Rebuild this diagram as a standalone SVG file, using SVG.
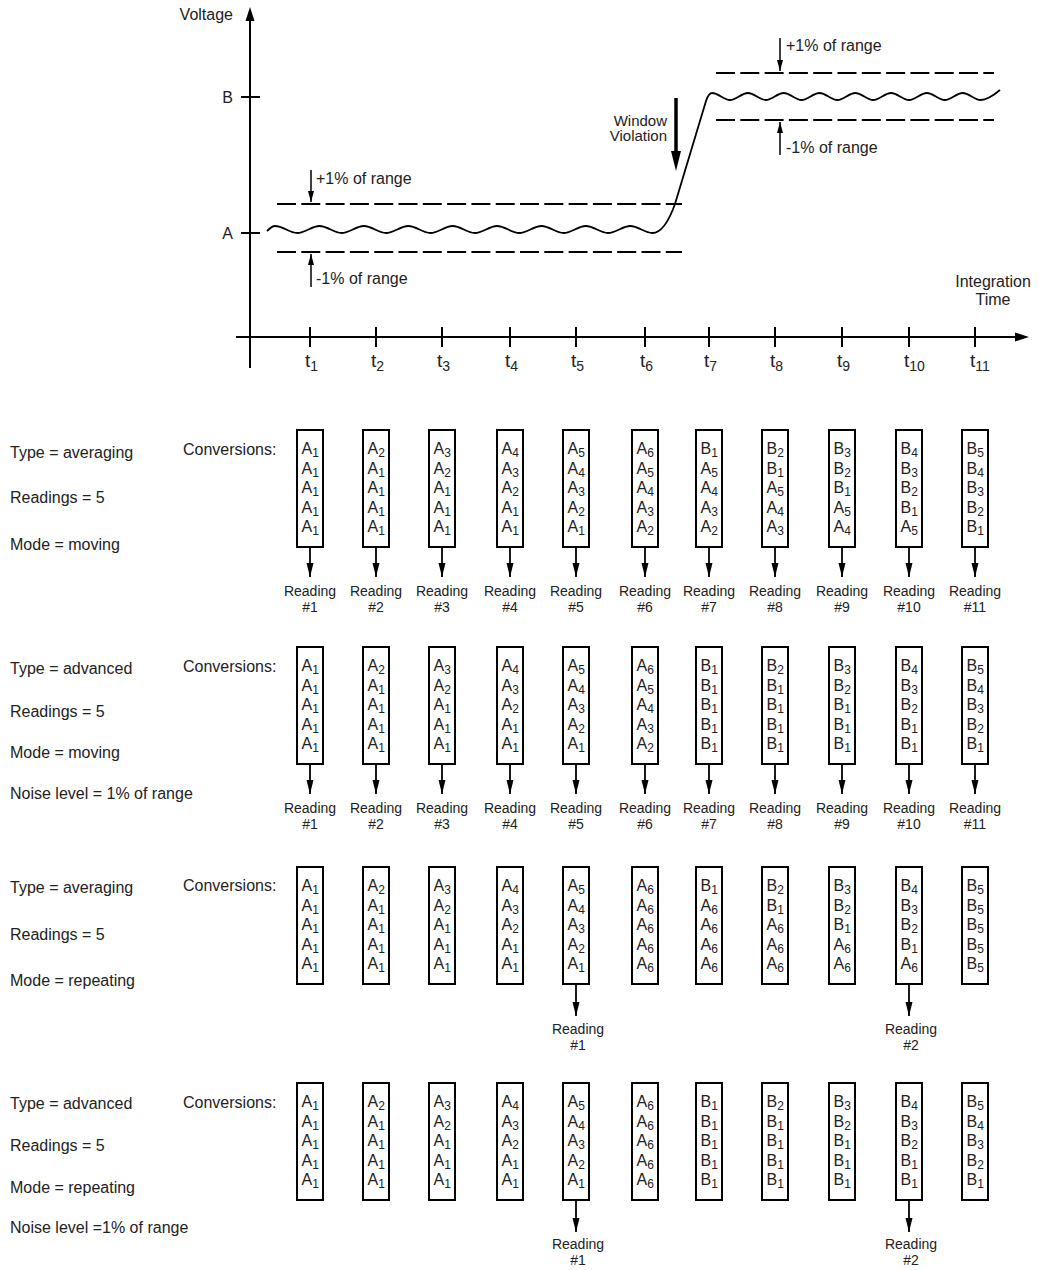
<svg xmlns="http://www.w3.org/2000/svg" width="1039" height="1270" viewBox="0 0 1039 1270">
<defs>
<style>
text{font-family:"Liberation Sans",Arial,sans-serif;fill:#222;}
.lbl{font-size:16px;}
.chart{font-size:16px;}
.tl{font-size:19px;}
.ts{font-size:14px;}
.rd{font-size:14px;text-anchor:middle;}
.box rect{fill:#fff;stroke:#000;stroke-width:2;}
.box text{font-size:16px;}
.s{font-size:12px;}
.ax{stroke:#000;stroke-width:2;fill:none;}
.dash{stroke:#000;stroke-width:2;stroke-dasharray:19 5.3;fill:none;}
.wave{stroke:#000;stroke-width:1.8;fill:none;}
.sm{stroke:#000;stroke-width:1.5;fill:none;}
.conn line{stroke:#000;stroke-width:1.8;}
</style>
<marker id="ah" markerUnits="userSpaceOnUse" markerWidth="14" markerHeight="8" refX="14" refY="4" orient="auto">
<path d="M0,0.5 L14,4 L0,7.5 z" fill="#000"/>
</marker>
<marker id="ahs" markerUnits="userSpaceOnUse" markerWidth="11" markerHeight="8" refX="11" refY="3.5" orient="auto">
<path d="M0,0.5 L11,3.5 L0,6.5 z" fill="#000"/>
</marker>
</defs>
<rect width="1039" height="1270" fill="#fff"/>

<g id="chart">
<line class="ax" x1="250" y1="368" x2="250" y2="18"/>
<polygon points="250,7 245.5,21 254.5,21" fill="#000"/>
<line class="ax" x1="236" y1="337" x2="1017" y2="337"/>
<polygon points="1029,337 1015,332.5 1015,341.5" fill="#000"/>
<line class="ax" x1="241" y1="97" x2="260" y2="97"/>
<line class="ax" x1="241" y1="233" x2="260" y2="233"/>
<g class="ax">
<line x1="310" y1="327" x2="310" y2="347"/>
<line x1="376" y1="327" x2="376" y2="347"/>
<line x1="442" y1="327" x2="442" y2="347"/>
<line x1="510" y1="327" x2="510" y2="347"/>
<line x1="576" y1="327" x2="576" y2="347"/>
<line x1="645" y1="327" x2="645" y2="347"/>
<line x1="709" y1="327" x2="709" y2="347"/>
<line x1="775" y1="327" x2="775" y2="347"/>
<line x1="842" y1="327" x2="842" y2="347"/>
<line x1="909" y1="327" x2="909" y2="347"/>
<line x1="975" y1="327" x2="975" y2="347"/>
</g>
<g class="tl">
<text x="305" y="367">t<tspan class="ts" dy="4">1</tspan></text>
<text x="371" y="367">t<tspan class="ts" dy="4">2</tspan></text>
<text x="437" y="367">t<tspan class="ts" dy="4">3</tspan></text>
<text x="505" y="367">t<tspan class="ts" dy="4">4</tspan></text>
<text x="571" y="367">t<tspan class="ts" dy="4">5</tspan></text>
<text x="640" y="367">t<tspan class="ts" dy="4">6</tspan></text>
<text x="704" y="367">t<tspan class="ts" dy="4">7</tspan></text>
<text x="770" y="367">t<tspan class="ts" dy="4">8</tspan></text>
<text x="837" y="367">t<tspan class="ts" dy="4">9</tspan></text>
<text x="904" y="367">t<tspan class="ts" dy="4">10</tspan></text>
<text x="970" y="367">t<tspan class="ts" dy="4">11</tspan></text>
</g>
<text class="chart" x="233" y="20" text-anchor="end">Voltage</text>
<text class="chart" x="233" y="103" text-anchor="end">B</text>
<text class="chart" x="233" y="239" text-anchor="end">A</text>
<text class="chart" x="993" y="287" text-anchor="middle">Integration</text>
<text class="chart" x="993" y="305" text-anchor="middle">Time</text>

<line class="dash" x1="277" y1="204" x2="682" y2="204"/>
<line class="dash" x1="277" y1="252" x2="682" y2="252"/>
<line class="dash" x1="716" y1="73" x2="994" y2="73"/>
<line class="dash" x1="716" y1="120" x2="994" y2="120"/>

<path class="wave" d="M267,231 C270,228 272,226 275,226 C283.1,226 289.3,233 297.2,233 C305.3,233 311.5,226 319.4,226 C327.5,226 333.7,233 341.6,233 C349.7,233 355.9,226 363.8,226 C371.9,226 378.1,233 386,233 C394.1,233 400.3,226 408.2,226 C416.3,226 422.5,233 430.4,233 C438.5,233 444.7,226 452.6,226 C460.7,226 466.9,233 474.8,233 C482.9,233 489.1,226 497,226 C505.1,226 511.3,233 519.2,233 C527.3,233 533.5,226 541.4,226 C549.5,226 555.7,233 563.6,233 C571.7,233 577.9,226 585.8,226 C593.9,226 600.1,233 608,233 C616.1,233 622.3,226 630.2,226 C638.3,226 644.5,233 652.4,233 C662,233 670,218 675,204 L706,101 C708,95 710,93 712.1,93 C718.6,93 723.5,100 730,100 C736.5,100 741.4,93 747.9,93 C754.4,93 759.3,100 765.8,100 C772.3,100 777.2,93 783.7,93 C790.2,93 795.1,100 801.6,100 C808.1,100 813,93 819.5,93 C826,93 830.9,100 837.4,100 C843.9,100 848.8,93 855.3,93 C861.8,93 866.7,100 873.2,100 C879.7,100 884.6,93 891.1,93 C897.6,93 902.5,100 909,100 C915.5,100 920.4,93 926.9,93 C933.4,93 938.3,100 944.8,100 C951.3,100 956.2,93 962.7,93 C969.2,93 974.1,100 980.6,100 C987,100 994,95 1000,90"/>

<line x1="676" y1="98" x2="676" y2="155" stroke="#000" stroke-width="3.5"/>
<polygon points="676,171 671,151 681,151" fill="#000"/>
<text x="667" y="126" font-size="15" text-anchor="end">Window</text>
<text x="667" y="141" font-size="15" text-anchor="end">Violation</text>

<line class="sm" x1="311" y1="170" x2="311" y2="202" marker-end="url(#ahs)"/>
<text class="chart" x="316" y="184">+1% of range</text>
<line class="sm" x1="311" y1="287" x2="311" y2="254" marker-end="url(#ahs)"/>
<text class="chart" x="316" y="284">-1% of range</text>
<line class="sm" x1="780" y1="38" x2="780" y2="71" marker-end="url(#ahs)"/>
<text class="chart" x="786" y="51">+1% of range</text>
<line class="sm" x1="780" y1="155" x2="780" y2="122" marker-end="url(#ahs)"/>
<text class="chart" x="786" y="153">-1% of range</text>
</g>

<g id="labels" class="lbl">
<text x="10" y="458">Type = averaging</text>
<text x="10" y="503">Readings = 5</text>
<text x="10" y="550">Mode = moving</text>
<text x="183" y="455">Conversions:</text>
<text x="10" y="673.5">Type = advanced</text>
<text x="10" y="717">Readings = 5</text>
<text x="10" y="758">Mode = moving</text>
<text x="10" y="798.5">Noise level = 1% of range</text>
<text x="183" y="672">Conversions:</text>
<text x="10" y="892.5">Type = averaging</text>
<text x="10" y="939.5">Readings = 5</text>
<text x="10" y="985.5">Mode = repeating</text>
<text x="183" y="891">Conversions:</text>
<text x="10" y="1109">Type = advanced</text>
<text x="10" y="1151">Readings = 5</text>
<text x="10" y="1192.5">Mode = repeating</text>
<text x="10" y="1233">Noise level =1% of range</text>
<text x="183" y="1108">Conversions:</text>
</g>

<!-- Row 1 -->
<g id="r1b1" class="box"><rect x="297" y="430" width="26" height="117"/><text><tspan x="301.5" y="454">A</tspan><tspan class="s" dy="3">1</tspan><tspan x="301.5" y="473.6">A</tspan><tspan class="s" dy="3">1</tspan><tspan x="301.5" y="493.2">A</tspan><tspan class="s" dy="3">1</tspan><tspan x="301.5" y="512.8">A</tspan><tspan class="s" dy="3">1</tspan><tspan x="301.5" y="532.4">A</tspan><tspan class="s" dy="3">1</tspan></text></g>
<g id="r1b2" class="box"><rect x="363" y="430" width="26" height="117"/><text><tspan x="367.5" y="454">A</tspan><tspan class="s" dy="3">2</tspan><tspan x="367.5" y="473.6">A</tspan><tspan class="s" dy="3">1</tspan><tspan x="367.5" y="493.2">A</tspan><tspan class="s" dy="3">1</tspan><tspan x="367.5" y="512.8">A</tspan><tspan class="s" dy="3">1</tspan><tspan x="367.5" y="532.4">A</tspan><tspan class="s" dy="3">1</tspan></text></g>
<g id="r1b3" class="box"><rect x="429" y="430" width="26" height="117"/><text><tspan x="433.5" y="454">A</tspan><tspan class="s" dy="3">3</tspan><tspan x="433.5" y="473.6">A</tspan><tspan class="s" dy="3">2</tspan><tspan x="433.5" y="493.2">A</tspan><tspan class="s" dy="3">1</tspan><tspan x="433.5" y="512.8">A</tspan><tspan class="s" dy="3">1</tspan><tspan x="433.5" y="532.4">A</tspan><tspan class="s" dy="3">1</tspan></text></g>
<g id="r1b4" class="box"><rect x="497" y="430" width="26" height="117"/><text><tspan x="501.5" y="454">A</tspan><tspan class="s" dy="3">4</tspan><tspan x="501.5" y="473.6">A</tspan><tspan class="s" dy="3">3</tspan><tspan x="501.5" y="493.2">A</tspan><tspan class="s" dy="3">2</tspan><tspan x="501.5" y="512.8">A</tspan><tspan class="s" dy="3">1</tspan><tspan x="501.5" y="532.4">A</tspan><tspan class="s" dy="3">1</tspan></text></g>
<g id="r1b5" class="box"><rect x="563" y="430" width="26" height="117"/><text><tspan x="567.5" y="454">A</tspan><tspan class="s" dy="3">5</tspan><tspan x="567.5" y="473.6">A</tspan><tspan class="s" dy="3">4</tspan><tspan x="567.5" y="493.2">A</tspan><tspan class="s" dy="3">3</tspan><tspan x="567.5" y="512.8">A</tspan><tspan class="s" dy="3">2</tspan><tspan x="567.5" y="532.4">A</tspan><tspan class="s" dy="3">1</tspan></text></g>
<g id="r1b6" class="box"><rect x="632" y="430" width="26" height="117"/><text><tspan x="636.5" y="454">A</tspan><tspan class="s" dy="3">6</tspan><tspan x="636.5" y="473.6">A</tspan><tspan class="s" dy="3">5</tspan><tspan x="636.5" y="493.2">A</tspan><tspan class="s" dy="3">4</tspan><tspan x="636.5" y="512.8">A</tspan><tspan class="s" dy="3">3</tspan><tspan x="636.5" y="532.4">A</tspan><tspan class="s" dy="3">2</tspan></text></g>
<g id="r1b7" class="box"><rect x="696" y="430" width="26" height="117"/><text><tspan x="700.5" y="454">B</tspan><tspan class="s" dy="3">1</tspan><tspan x="700.5" y="473.6">A</tspan><tspan class="s" dy="3">5</tspan><tspan x="700.5" y="493.2">A</tspan><tspan class="s" dy="3">4</tspan><tspan x="700.5" y="512.8">A</tspan><tspan class="s" dy="3">3</tspan><tspan x="700.5" y="532.4">A</tspan><tspan class="s" dy="3">2</tspan></text></g>
<g id="r1b8" class="box"><rect x="762" y="430" width="26" height="117"/><text><tspan x="766.5" y="454">B</tspan><tspan class="s" dy="3">2</tspan><tspan x="766.5" y="473.6">B</tspan><tspan class="s" dy="3">1</tspan><tspan x="766.5" y="493.2">A</tspan><tspan class="s" dy="3">5</tspan><tspan x="766.5" y="512.8">A</tspan><tspan class="s" dy="3">4</tspan><tspan x="766.5" y="532.4">A</tspan><tspan class="s" dy="3">3</tspan></text></g>
<g id="r1b9" class="box"><rect x="829" y="430" width="26" height="117"/><text><tspan x="833.5" y="454">B</tspan><tspan class="s" dy="3">3</tspan><tspan x="833.5" y="473.6">B</tspan><tspan class="s" dy="3">2</tspan><tspan x="833.5" y="493.2">B</tspan><tspan class="s" dy="3">1</tspan><tspan x="833.5" y="512.8">A</tspan><tspan class="s" dy="3">5</tspan><tspan x="833.5" y="532.4">A</tspan><tspan class="s" dy="3">4</tspan></text></g>
<g id="r1b10" class="box"><rect x="896" y="430" width="26" height="117"/><text><tspan x="900.5" y="454">B</tspan><tspan class="s" dy="3">4</tspan><tspan x="900.5" y="473.6">B</tspan><tspan class="s" dy="3">3</tspan><tspan x="900.5" y="493.2">B</tspan><tspan class="s" dy="3">2</tspan><tspan x="900.5" y="512.8">B</tspan><tspan class="s" dy="3">1</tspan><tspan x="900.5" y="532.4">A</tspan><tspan class="s" dy="3">5</tspan></text></g>
<g id="r1b11" class="box"><rect x="962" y="430" width="26" height="117"/><text><tspan x="966.5" y="454">B</tspan><tspan class="s" dy="3">5</tspan><tspan x="966.5" y="473.6">B</tspan><tspan class="s" dy="3">4</tspan><tspan x="966.5" y="493.2">B</tspan><tspan class="s" dy="3">3</tspan><tspan x="966.5" y="512.8">B</tspan><tspan class="s" dy="3">2</tspan><tspan x="966.5" y="532.4">B</tspan><tspan class="s" dy="3">1</tspan></text></g>

<!-- Row 2 -->
<g id="r2b1" class="box"><rect x="297" y="647" width="26" height="117"/><text><tspan x="301.5" y="671">A</tspan><tspan class="s" dy="3">1</tspan><tspan x="301.5" y="690.6">A</tspan><tspan class="s" dy="3">1</tspan><tspan x="301.5" y="710.2">A</tspan><tspan class="s" dy="3">1</tspan><tspan x="301.5" y="729.8">A</tspan><tspan class="s" dy="3">1</tspan><tspan x="301.5" y="749.4">A</tspan><tspan class="s" dy="3">1</tspan></text></g>
<g id="r2b2" class="box"><rect x="363" y="647" width="26" height="117"/><text><tspan x="367.5" y="671">A</tspan><tspan class="s" dy="3">2</tspan><tspan x="367.5" y="690.6">A</tspan><tspan class="s" dy="3">1</tspan><tspan x="367.5" y="710.2">A</tspan><tspan class="s" dy="3">1</tspan><tspan x="367.5" y="729.8">A</tspan><tspan class="s" dy="3">1</tspan><tspan x="367.5" y="749.4">A</tspan><tspan class="s" dy="3">1</tspan></text></g>
<g id="r2b3" class="box"><rect x="429" y="647" width="26" height="117"/><text><tspan x="433.5" y="671">A</tspan><tspan class="s" dy="3">3</tspan><tspan x="433.5" y="690.6">A</tspan><tspan class="s" dy="3">2</tspan><tspan x="433.5" y="710.2">A</tspan><tspan class="s" dy="3">1</tspan><tspan x="433.5" y="729.8">A</tspan><tspan class="s" dy="3">1</tspan><tspan x="433.5" y="749.4">A</tspan><tspan class="s" dy="3">1</tspan></text></g>
<g id="r2b4" class="box"><rect x="497" y="647" width="26" height="117"/><text><tspan x="501.5" y="671">A</tspan><tspan class="s" dy="3">4</tspan><tspan x="501.5" y="690.6">A</tspan><tspan class="s" dy="3">3</tspan><tspan x="501.5" y="710.2">A</tspan><tspan class="s" dy="3">2</tspan><tspan x="501.5" y="729.8">A</tspan><tspan class="s" dy="3">1</tspan><tspan x="501.5" y="749.4">A</tspan><tspan class="s" dy="3">1</tspan></text></g>
<g id="r2b5" class="box"><rect x="563" y="647" width="26" height="117"/><text><tspan x="567.5" y="671">A</tspan><tspan class="s" dy="3">5</tspan><tspan x="567.5" y="690.6">A</tspan><tspan class="s" dy="3">4</tspan><tspan x="567.5" y="710.2">A</tspan><tspan class="s" dy="3">3</tspan><tspan x="567.5" y="729.8">A</tspan><tspan class="s" dy="3">2</tspan><tspan x="567.5" y="749.4">A</tspan><tspan class="s" dy="3">1</tspan></text></g>
<g id="r2b6" class="box"><rect x="632" y="647" width="26" height="117"/><text><tspan x="636.5" y="671">A</tspan><tspan class="s" dy="3">6</tspan><tspan x="636.5" y="690.6">A</tspan><tspan class="s" dy="3">5</tspan><tspan x="636.5" y="710.2">A</tspan><tspan class="s" dy="3">4</tspan><tspan x="636.5" y="729.8">A</tspan><tspan class="s" dy="3">3</tspan><tspan x="636.5" y="749.4">A</tspan><tspan class="s" dy="3">2</tspan></text></g>
<g id="r2b7" class="box"><rect x="696" y="647" width="26" height="117"/><text><tspan x="700.5" y="671">B</tspan><tspan class="s" dy="3">1</tspan><tspan x="700.5" y="690.6">B</tspan><tspan class="s" dy="3">1</tspan><tspan x="700.5" y="710.2">B</tspan><tspan class="s" dy="3">1</tspan><tspan x="700.5" y="729.8">B</tspan><tspan class="s" dy="3">1</tspan><tspan x="700.5" y="749.4">B</tspan><tspan class="s" dy="3">1</tspan></text></g>
<g id="r2b8" class="box"><rect x="762" y="647" width="26" height="117"/><text><tspan x="766.5" y="671">B</tspan><tspan class="s" dy="3">2</tspan><tspan x="766.5" y="690.6">B</tspan><tspan class="s" dy="3">1</tspan><tspan x="766.5" y="710.2">B</tspan><tspan class="s" dy="3">1</tspan><tspan x="766.5" y="729.8">B</tspan><tspan class="s" dy="3">1</tspan><tspan x="766.5" y="749.4">B</tspan><tspan class="s" dy="3">1</tspan></text></g>
<g id="r2b9" class="box"><rect x="829" y="647" width="26" height="117"/><text><tspan x="833.5" y="671">B</tspan><tspan class="s" dy="3">3</tspan><tspan x="833.5" y="690.6">B</tspan><tspan class="s" dy="3">2</tspan><tspan x="833.5" y="710.2">B</tspan><tspan class="s" dy="3">1</tspan><tspan x="833.5" y="729.8">B</tspan><tspan class="s" dy="3">1</tspan><tspan x="833.5" y="749.4">B</tspan><tspan class="s" dy="3">1</tspan></text></g>
<g id="r2b10" class="box"><rect x="896" y="647" width="26" height="117"/><text><tspan x="900.5" y="671">B</tspan><tspan class="s" dy="3">4</tspan><tspan x="900.5" y="690.6">B</tspan><tspan class="s" dy="3">3</tspan><tspan x="900.5" y="710.2">B</tspan><tspan class="s" dy="3">2</tspan><tspan x="900.5" y="729.8">B</tspan><tspan class="s" dy="3">1</tspan><tspan x="900.5" y="749.4">B</tspan><tspan class="s" dy="3">1</tspan></text></g>
<g id="r2b11" class="box"><rect x="962" y="647" width="26" height="117"/><text><tspan x="966.5" y="671">B</tspan><tspan class="s" dy="3">5</tspan><tspan x="966.5" y="690.6">B</tspan><tspan class="s" dy="3">4</tspan><tspan x="966.5" y="710.2">B</tspan><tspan class="s" dy="3">3</tspan><tspan x="966.5" y="729.8">B</tspan><tspan class="s" dy="3">2</tspan><tspan x="966.5" y="749.4">B</tspan><tspan class="s" dy="3">1</tspan></text></g>

<!-- Row 3 -->
<g id="r3b1" class="box"><rect x="297" y="867" width="26" height="117"/><text><tspan x="301.5" y="891">A</tspan><tspan class="s" dy="3">1</tspan><tspan x="301.5" y="910.6">A</tspan><tspan class="s" dy="3">1</tspan><tspan x="301.5" y="930.2">A</tspan><tspan class="s" dy="3">1</tspan><tspan x="301.5" y="949.8">A</tspan><tspan class="s" dy="3">1</tspan><tspan x="301.5" y="969.4">A</tspan><tspan class="s" dy="3">1</tspan></text></g>
<g id="r3b2" class="box"><rect x="363" y="867" width="26" height="117"/><text><tspan x="367.5" y="891">A</tspan><tspan class="s" dy="3">2</tspan><tspan x="367.5" y="910.6">A</tspan><tspan class="s" dy="3">1</tspan><tspan x="367.5" y="930.2">A</tspan><tspan class="s" dy="3">1</tspan><tspan x="367.5" y="949.8">A</tspan><tspan class="s" dy="3">1</tspan><tspan x="367.5" y="969.4">A</tspan><tspan class="s" dy="3">1</tspan></text></g>
<g id="r3b3" class="box"><rect x="429" y="867" width="26" height="117"/><text><tspan x="433.5" y="891">A</tspan><tspan class="s" dy="3">3</tspan><tspan x="433.5" y="910.6">A</tspan><tspan class="s" dy="3">2</tspan><tspan x="433.5" y="930.2">A</tspan><tspan class="s" dy="3">1</tspan><tspan x="433.5" y="949.8">A</tspan><tspan class="s" dy="3">1</tspan><tspan x="433.5" y="969.4">A</tspan><tspan class="s" dy="3">1</tspan></text></g>
<g id="r3b4" class="box"><rect x="497" y="867" width="26" height="117"/><text><tspan x="501.5" y="891">A</tspan><tspan class="s" dy="3">4</tspan><tspan x="501.5" y="910.6">A</tspan><tspan class="s" dy="3">3</tspan><tspan x="501.5" y="930.2">A</tspan><tspan class="s" dy="3">2</tspan><tspan x="501.5" y="949.8">A</tspan><tspan class="s" dy="3">1</tspan><tspan x="501.5" y="969.4">A</tspan><tspan class="s" dy="3">1</tspan></text></g>
<g id="r3b5" class="box"><rect x="563" y="867" width="26" height="117"/><text><tspan x="567.5" y="891">A</tspan><tspan class="s" dy="3">5</tspan><tspan x="567.5" y="910.6">A</tspan><tspan class="s" dy="3">4</tspan><tspan x="567.5" y="930.2">A</tspan><tspan class="s" dy="3">3</tspan><tspan x="567.5" y="949.8">A</tspan><tspan class="s" dy="3">2</tspan><tspan x="567.5" y="969.4">A</tspan><tspan class="s" dy="3">1</tspan></text></g>
<g id="r3b6" class="box"><rect x="632" y="867" width="26" height="117"/><text><tspan x="636.5" y="891">A</tspan><tspan class="s" dy="3">6</tspan><tspan x="636.5" y="910.6">A</tspan><tspan class="s" dy="3">6</tspan><tspan x="636.5" y="930.2">A</tspan><tspan class="s" dy="3">6</tspan><tspan x="636.5" y="949.8">A</tspan><tspan class="s" dy="3">6</tspan><tspan x="636.5" y="969.4">A</tspan><tspan class="s" dy="3">6</tspan></text></g>
<g id="r3b7" class="box"><rect x="696" y="867" width="26" height="117"/><text><tspan x="700.5" y="891">B</tspan><tspan class="s" dy="3">1</tspan><tspan x="700.5" y="910.6">A</tspan><tspan class="s" dy="3">6</tspan><tspan x="700.5" y="930.2">A</tspan><tspan class="s" dy="3">6</tspan><tspan x="700.5" y="949.8">A</tspan><tspan class="s" dy="3">6</tspan><tspan x="700.5" y="969.4">A</tspan><tspan class="s" dy="3">6</tspan></text></g>
<g id="r3b8" class="box"><rect x="762" y="867" width="26" height="117"/><text><tspan x="766.5" y="891">B</tspan><tspan class="s" dy="3">2</tspan><tspan x="766.5" y="910.6">B</tspan><tspan class="s" dy="3">1</tspan><tspan x="766.5" y="930.2">A</tspan><tspan class="s" dy="3">6</tspan><tspan x="766.5" y="949.8">A</tspan><tspan class="s" dy="3">6</tspan><tspan x="766.5" y="969.4">A</tspan><tspan class="s" dy="3">6</tspan></text></g>
<g id="r3b9" class="box"><rect x="829" y="867" width="26" height="117"/><text><tspan x="833.5" y="891">B</tspan><tspan class="s" dy="3">3</tspan><tspan x="833.5" y="910.6">B</tspan><tspan class="s" dy="3">2</tspan><tspan x="833.5" y="930.2">B</tspan><tspan class="s" dy="3">1</tspan><tspan x="833.5" y="949.8">A</tspan><tspan class="s" dy="3">6</tspan><tspan x="833.5" y="969.4">A</tspan><tspan class="s" dy="3">6</tspan></text></g>
<g id="r3b10" class="box"><rect x="896" y="867" width="26" height="117"/><text><tspan x="900.5" y="891">B</tspan><tspan class="s" dy="3">4</tspan><tspan x="900.5" y="910.6">B</tspan><tspan class="s" dy="3">3</tspan><tspan x="900.5" y="930.2">B</tspan><tspan class="s" dy="3">2</tspan><tspan x="900.5" y="949.8">B</tspan><tspan class="s" dy="3">1</tspan><tspan x="900.5" y="969.4">A</tspan><tspan class="s" dy="3">6</tspan></text></g>
<g id="r3b11" class="box"><rect x="962" y="867" width="26" height="117"/><text><tspan x="966.5" y="891">B</tspan><tspan class="s" dy="3">5</tspan><tspan x="966.5" y="910.6">B</tspan><tspan class="s" dy="3">5</tspan><tspan x="966.5" y="930.2">B</tspan><tspan class="s" dy="3">5</tspan><tspan x="966.5" y="949.8">B</tspan><tspan class="s" dy="3">5</tspan><tspan x="966.5" y="969.4">B</tspan><tspan class="s" dy="3">5</tspan></text></g>

<!-- Row 4 -->
<g id="r4b1" class="box"><rect x="297" y="1083" width="26" height="117"/><text><tspan x="301.5" y="1107">A</tspan><tspan class="s" dy="3">1</tspan><tspan x="301.5" y="1126.6">A</tspan><tspan class="s" dy="3">1</tspan><tspan x="301.5" y="1146.2">A</tspan><tspan class="s" dy="3">1</tspan><tspan x="301.5" y="1165.8">A</tspan><tspan class="s" dy="3">1</tspan><tspan x="301.5" y="1185.4">A</tspan><tspan class="s" dy="3">1</tspan></text></g>
<g id="r4b2" class="box"><rect x="363" y="1083" width="26" height="117"/><text><tspan x="367.5" y="1107">A</tspan><tspan class="s" dy="3">2</tspan><tspan x="367.5" y="1126.6">A</tspan><tspan class="s" dy="3">1</tspan><tspan x="367.5" y="1146.2">A</tspan><tspan class="s" dy="3">1</tspan><tspan x="367.5" y="1165.8">A</tspan><tspan class="s" dy="3">1</tspan><tspan x="367.5" y="1185.4">A</tspan><tspan class="s" dy="3">1</tspan></text></g>
<g id="r4b3" class="box"><rect x="429" y="1083" width="26" height="117"/><text><tspan x="433.5" y="1107">A</tspan><tspan class="s" dy="3">3</tspan><tspan x="433.5" y="1126.6">A</tspan><tspan class="s" dy="3">2</tspan><tspan x="433.5" y="1146.2">A</tspan><tspan class="s" dy="3">1</tspan><tspan x="433.5" y="1165.8">A</tspan><tspan class="s" dy="3">1</tspan><tspan x="433.5" y="1185.4">A</tspan><tspan class="s" dy="3">1</tspan></text></g>
<g id="r4b4" class="box"><rect x="497" y="1083" width="26" height="117"/><text><tspan x="501.5" y="1107">A</tspan><tspan class="s" dy="3">4</tspan><tspan x="501.5" y="1126.6">A</tspan><tspan class="s" dy="3">3</tspan><tspan x="501.5" y="1146.2">A</tspan><tspan class="s" dy="3">2</tspan><tspan x="501.5" y="1165.8">A</tspan><tspan class="s" dy="3">1</tspan><tspan x="501.5" y="1185.4">A</tspan><tspan class="s" dy="3">1</tspan></text></g>
<g id="r4b5" class="box"><rect x="563" y="1083" width="26" height="117"/><text><tspan x="567.5" y="1107">A</tspan><tspan class="s" dy="3">5</tspan><tspan x="567.5" y="1126.6">A</tspan><tspan class="s" dy="3">4</tspan><tspan x="567.5" y="1146.2">A</tspan><tspan class="s" dy="3">3</tspan><tspan x="567.5" y="1165.8">A</tspan><tspan class="s" dy="3">2</tspan><tspan x="567.5" y="1185.4">A</tspan><tspan class="s" dy="3">1</tspan></text></g>
<g id="r4b6" class="box"><rect x="632" y="1083" width="26" height="117"/><text><tspan x="636.5" y="1107">A</tspan><tspan class="s" dy="3">6</tspan><tspan x="636.5" y="1126.6">A</tspan><tspan class="s" dy="3">6</tspan><tspan x="636.5" y="1146.2">A</tspan><tspan class="s" dy="3">6</tspan><tspan x="636.5" y="1165.8">A</tspan><tspan class="s" dy="3">6</tspan><tspan x="636.5" y="1185.4">A</tspan><tspan class="s" dy="3">6</tspan></text></g>
<g id="r4b7" class="box"><rect x="696" y="1083" width="26" height="117"/><text><tspan x="700.5" y="1107">B</tspan><tspan class="s" dy="3">1</tspan><tspan x="700.5" y="1126.6">B</tspan><tspan class="s" dy="3">1</tspan><tspan x="700.5" y="1146.2">B</tspan><tspan class="s" dy="3">1</tspan><tspan x="700.5" y="1165.8">B</tspan><tspan class="s" dy="3">1</tspan><tspan x="700.5" y="1185.4">B</tspan><tspan class="s" dy="3">1</tspan></text></g>
<g id="r4b8" class="box"><rect x="762" y="1083" width="26" height="117"/><text><tspan x="766.5" y="1107">B</tspan><tspan class="s" dy="3">2</tspan><tspan x="766.5" y="1126.6">B</tspan><tspan class="s" dy="3">1</tspan><tspan x="766.5" y="1146.2">B</tspan><tspan class="s" dy="3">1</tspan><tspan x="766.5" y="1165.8">B</tspan><tspan class="s" dy="3">1</tspan><tspan x="766.5" y="1185.4">B</tspan><tspan class="s" dy="3">1</tspan></text></g>
<g id="r4b9" class="box"><rect x="829" y="1083" width="26" height="117"/><text><tspan x="833.5" y="1107">B</tspan><tspan class="s" dy="3">3</tspan><tspan x="833.5" y="1126.6">B</tspan><tspan class="s" dy="3">2</tspan><tspan x="833.5" y="1146.2">B</tspan><tspan class="s" dy="3">1</tspan><tspan x="833.5" y="1165.8">B</tspan><tspan class="s" dy="3">1</tspan><tspan x="833.5" y="1185.4">B</tspan><tspan class="s" dy="3">1</tspan></text></g>
<g id="r4b10" class="box"><rect x="896" y="1083" width="26" height="117"/><text><tspan x="900.5" y="1107">B</tspan><tspan class="s" dy="3">4</tspan><tspan x="900.5" y="1126.6">B</tspan><tspan class="s" dy="3">3</tspan><tspan x="900.5" y="1146.2">B</tspan><tspan class="s" dy="3">2</tspan><tspan x="900.5" y="1165.8">B</tspan><tspan class="s" dy="3">1</tspan><tspan x="900.5" y="1185.4">B</tspan><tspan class="s" dy="3">1</tspan></text></g>
<g id="r4b11" class="box"><rect x="962" y="1083" width="26" height="117"/><text><tspan x="966.5" y="1107">B</tspan><tspan class="s" dy="3">5</tspan><tspan x="966.5" y="1126.6">B</tspan><tspan class="s" dy="3">4</tspan><tspan x="966.5" y="1146.2">B</tspan><tspan class="s" dy="3">3</tspan><tspan x="966.5" y="1165.8">B</tspan><tspan class="s" dy="3">2</tspan><tspan x="966.5" y="1185.4">B</tspan><tspan class="s" dy="3">1</tspan></text></g>

<g id="connectors" class="conn">
<line x1="310" y1="547" x2="310" y2="577" marker-end="url(#ah)"/>
<line x1="376" y1="547" x2="376" y2="577" marker-end="url(#ah)"/>
<line x1="442" y1="547" x2="442" y2="577" marker-end="url(#ah)"/>
<line x1="510" y1="547" x2="510" y2="577" marker-end="url(#ah)"/>
<line x1="576" y1="547" x2="576" y2="577" marker-end="url(#ah)"/>
<line x1="645" y1="547" x2="645" y2="577" marker-end="url(#ah)"/>
<line x1="709" y1="547" x2="709" y2="577" marker-end="url(#ah)"/>
<line x1="775" y1="547" x2="775" y2="577" marker-end="url(#ah)"/>
<line x1="842" y1="547" x2="842" y2="577" marker-end="url(#ah)"/>
<line x1="909" y1="547" x2="909" y2="577" marker-end="url(#ah)"/>
<line x1="975" y1="547" x2="975" y2="577" marker-end="url(#ah)"/>
<line x1="310" y1="764" x2="310" y2="794" marker-end="url(#ah)"/>
<line x1="376" y1="764" x2="376" y2="794" marker-end="url(#ah)"/>
<line x1="442" y1="764" x2="442" y2="794" marker-end="url(#ah)"/>
<line x1="510" y1="764" x2="510" y2="794" marker-end="url(#ah)"/>
<line x1="576" y1="764" x2="576" y2="794" marker-end="url(#ah)"/>
<line x1="645" y1="764" x2="645" y2="794" marker-end="url(#ah)"/>
<line x1="709" y1="764" x2="709" y2="794" marker-end="url(#ah)"/>
<line x1="775" y1="764" x2="775" y2="794" marker-end="url(#ah)"/>
<line x1="842" y1="764" x2="842" y2="794" marker-end="url(#ah)"/>
<line x1="909" y1="764" x2="909" y2="794" marker-end="url(#ah)"/>
<line x1="975" y1="764" x2="975" y2="794" marker-end="url(#ah)"/>
<line x1="576" y1="984" x2="576" y2="1016" marker-end="url(#ah)"/>
<line x1="909" y1="984" x2="909" y2="1016" marker-end="url(#ah)"/>
<line x1="576" y1="1200" x2="576" y2="1232" marker-end="url(#ah)"/>
<line x1="909" y1="1200" x2="909" y2="1232" marker-end="url(#ah)"/>
</g>

<g id="readings" class="rd">
<text x="310" y="596">Reading</text><text x="310" y="611.5">#1</text>
<text x="376" y="596">Reading</text><text x="376" y="611.5">#2</text>
<text x="442" y="596">Reading</text><text x="442" y="611.5">#3</text>
<text x="510" y="596">Reading</text><text x="510" y="611.5">#4</text>
<text x="576" y="596">Reading</text><text x="576" y="611.5">#5</text>
<text x="645" y="596">Reading</text><text x="645" y="611.5">#6</text>
<text x="709" y="596">Reading</text><text x="709" y="611.5">#7</text>
<text x="775" y="596">Reading</text><text x="775" y="611.5">#8</text>
<text x="842" y="596">Reading</text><text x="842" y="611.5">#9</text>
<text x="909" y="596">Reading</text><text x="909" y="611.5">#10</text>
<text x="975" y="596">Reading</text><text x="975" y="611.5">#11</text>
<text x="310" y="813">Reading</text><text x="310" y="828.5">#1</text>
<text x="376" y="813">Reading</text><text x="376" y="828.5">#2</text>
<text x="442" y="813">Reading</text><text x="442" y="828.5">#3</text>
<text x="510" y="813">Reading</text><text x="510" y="828.5">#4</text>
<text x="576" y="813">Reading</text><text x="576" y="828.5">#5</text>
<text x="645" y="813">Reading</text><text x="645" y="828.5">#6</text>
<text x="709" y="813">Reading</text><text x="709" y="828.5">#7</text>
<text x="775" y="813">Reading</text><text x="775" y="828.5">#8</text>
<text x="842" y="813">Reading</text><text x="842" y="828.5">#9</text>
<text x="909" y="813">Reading</text><text x="909" y="828.5">#10</text>
<text x="975" y="813">Reading</text><text x="975" y="828.5">#11</text>
<text x="578" y="1034">Reading</text><text x="578" y="1050">#1</text>
<text x="911" y="1034">Reading</text><text x="911" y="1050">#2</text>
<text x="578" y="1249">Reading</text><text x="578" y="1265">#1</text>
<text x="911" y="1249">Reading</text><text x="911" y="1265">#2</text>
</g>
</svg>
